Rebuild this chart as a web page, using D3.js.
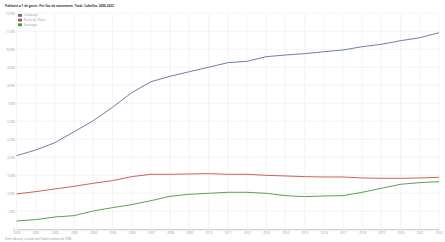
<!DOCTYPE html>
<html lang="ca">
    <head>
        <meta charset="UTF-8" />
        <title>Població per lloc de naixement</title>
        <script src="https://cdn.jsdelivr.net/npm/d3@7"></script>
        <style>
            body {
                margin: 0;
                background: #fff;
                overflow: hidden;
            }
            svg text {
                font-family: 'Open Sans', 'DejaVu Sans', sans-serif;
            }
        </style>
    </head>
    <body>
        <div id="container"></div>
        <script>
            const years = d3.range(2000, 2023)
            const seriesNames = ['Catalunya', "Resta de l'Estat", 'Estranger']
            const catalunya = [4089, 4405, 4811, 5422, 6033, 6778, 7589, 8200, 8500, 8756, 9000, 9256, 9333, 9589, 9683, 9756, 9867, 9961, 10144, 10278, 10478, 10644, 10922]
            const restaEstat = [1963, 2093, 2241, 2389, 2556, 2704, 2926, 3056, 3056, 3074, 3093, 3056, 3056, 3000, 2963, 2926, 2907, 2907, 2852, 2833, 2833, 2852, 2889]
            const estranger = [463, 537, 685, 759, 1019, 1204, 1370, 1590, 1833, 1944, 2000, 2056, 2056, 2000, 1870, 1815, 1852, 1870, 2056, 2278, 2500, 2593, 2648]
            const yTicks = d3.range(0, 13000, 1000)
            const colors = ['#5b7399', '#c0504d', '#3f9a3f']

            const title = 'Població a 1 de gener. Per lloc de naixement. Total. Cubelles. 2000-2022'
            const source = "Font: Idescat, a partir del Padró continu de l'INE."

            const width = 445
            const height = 242
            const margin = { top: 13.3, right: 6, bottom: 12.7, left: 16.5 }

            const svg = d3.select('#container').append('svg').attr('width', width).attr('height', height)

            const x = d3
                .scaleLinear()
                .domain([years[0], years[years.length - 1]])
                .range([margin.left, width - margin.right])
            const y = d3
                .scaleLinear()
                .domain([0, 12000])
                .range([height - margin.bottom, margin.top])

            // grid
            svg.append('g')
                .selectAll('line')
                .data(years)
                .join('line')
                .attr('x1', (d) => x(d))
                .attr('x2', (d) => x(d))
                .attr('y1', y(12000))
                .attr('y2', y(0))
                .attr('stroke', '#ececec')
                .attr('stroke-width', 0.6)
            svg.append('g')
                .selectAll('line')
                .data(yTicks)
                .join('line')
                .attr('x1', x(years[0]))
                .attr('x2', x(years[years.length - 1]))
                .attr('y1', (d) => y(d))
                .attr('y2', (d) => y(d))
                .attr('stroke', '#ececec')
                .attr('stroke-width', 0.6)

            // y axis
            const fmt = (d) => d3.format(',')(d).replace(/,/g, '.')
            const yAxis = svg
                .append('g')
                .attr('transform', `translate(${margin.left - 1.5},0)`)
                .call(d3.axisLeft(y).tickValues(yTicks).tickFormat(fmt).tickSize(0).tickPadding(0))
            yAxis.select('.domain').remove()
            yAxis.selectAll('text').attr('fill', '#999').style('font-size', '3px')

            // x axis
            const xAxis = svg
                .append('g')
                .attr('transform', `translate(0,${y(0)})`)
                .call(d3.axisBottom(x).tickValues(years).tickFormat(d3.format('d')).tickSize(0).tickPadding(2.5))
            xAxis.select('.domain').attr('stroke', '#c8c8c8').attr('stroke-width', 1)
            xAxis.selectAll('text').attr('fill', '#999').style('font-size', '3px')

            // lines
            const series = [catalunya, restaEstat, estranger]
            const line = d3
                .line()
                .x((d, i) => x(years[i]))
                .y((d) => y(d))
            svg.append('g')
                .selectAll('path')
                .data(series)
                .join('path')
                .attr('d', (d) => line(d))
                .attr('fill', 'none')
                .attr('stroke', (d, i) => colors[i])
                .attr('stroke-width', 0.9)

            // legend
            const legend = svg
                .append('g')
                .selectAll('g')
                .data(seriesNames)
                .join('g')
                .attr('transform', (d, i) => `translate(18,${14 + i * 4.7})`)
            legend
                .append('rect')
                .attr('width', 4)
                .attr('height', 2.8)
                .attr('fill', (d, i) => colors[i])
            legend
                .append('text')
                .attr('x', 6)
                .attr('y', 2.3)
                .attr('fill', '#999')
                .style('font-size', '3px')
                .text((d) => d)

            // title and source
            svg.append('text')
                .attr('x', 5)
                .attr('y', 7)
                .attr('fill', '#333')
                .style('font-size', '3.1px')
                .style('font-weight', 'bold')
                .text(title)
            svg.append('text')
                .attr('x', 5)
                .attr('y', 239.5)
                .attr('fill', '#888')
                .style('font-size', '3px')
                .text(source)
        </script>
    </body>
</html>
